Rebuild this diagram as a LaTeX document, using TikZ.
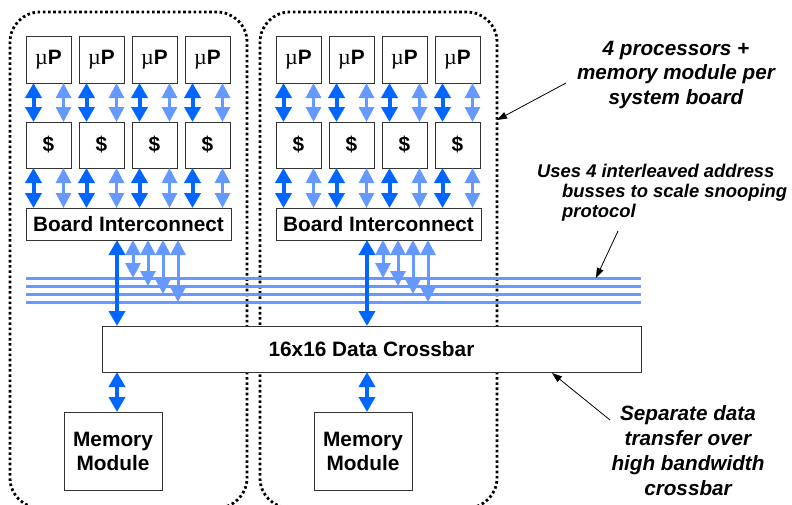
\documentclass[tikz,border=0pt]{standalone}
\usepackage{fontspec}
\setmainfont{Liberation Sans}
\newfontfamily\mufont{Liberation Serif}
\usetikzlibrary{arrows.meta}
\definecolor{busdark}{HTML}{0066FF}
\definecolor{buslight}{HTML}{6699FF}

\begin{document}
\begin{tikzpicture}[x=1pt,y=-1pt,
  unit/.style={draw=black!80, line width=0.9pt, fill=white, inner sep=0pt, outer sep=0pt,
    font=\fontsize{20.8}{24}\selectfont\bfseries, align=center, anchor=north west},
  boardbox/.style={draw=black, line width=2.8pt, dash pattern=on 2.6pt off 2.6pt,
    rounded corners=30pt, inner sep=0pt, outer sep=0pt, anchor=north west},
  darklink/.style={draw=busdark, line width=4pt,
    {Triangle[width=16pt,length=15pt]}-{Triangle[width=16pt,length=15pt]}},
  lightlink/.style={draw=buslight, line width=3pt,
    {Triangle[width=15pt,length=15pt]}-{Triangle[width=15pt,length=15pt]}},
  busline/.style={draw=buslight, line width=3pt},
  note/.style={font=\fontsize{20.7}{24.5}\selectfont\bfseries\itshape, align=center, inner sep=0pt},
  smallnote/.style={font=\fontsize{18.4}{20}\selectfont\bfseries\itshape, align=left, inner sep=0pt},
  pointer/.style={draw=black, line width=0.8pt, -{Triangle[width=7pt,length=10pt]}}
]
\useasboundingbox (0,0) rectangle (792,504);

% system boards (dotted outlines)
\node[boardbox, minimum width=237pt, minimum height=496pt] (board1) at (10,12) {};
\node[boardbox, minimum width=237pt, minimum height=496pt] (board2) at (260,12) {};

% four address busses
\foreach \k/\y in {1/278, 2/286, 3/294, 4/302} {
  \coordinate (bus\k) at (26,\y);
  \coordinate (busend\k) at (641,\y);
  \draw[busline] (bus\k) -- (busend\k);
}

% data crossbar
\node[unit, minimum width=539pt, minimum height=46pt] (xbar) at (102,326) {16x16 Data Crossbar};

\foreach \b/\ox in {1/0, 2/250} {
  % processors and caches
  \foreach \i in {0,...,3} {
    \pgfmathsetmacro{\bx}{26+\ox+53*\i}
    \node[unit, minimum width=45pt, minimum height=47pt] (p\b\i) at (\bx,36)
      {{\mufont\mdseries\fontsize{22}{24}\selectfont\char"00B5}P};
    \node[unit, minimum width=45pt, minimum height=46pt] (c\b\i) at (\bx,122) {\$};
  }
  % board interconnect and memory
  \node[unit, minimum width=205pt, minimum height=32pt] (bi\b) at (26+\ox,208) {Board Interconnect};
  \node[unit, minimum width=98pt, minimum height=78pt] (mem\b) at (64+\ox,412) {Memory\\Module};

  \foreach \i in {0,...,3} {
    \draw[darklink] ([xshift=7.5pt]p\b\i.south west) -- ([xshift=7.5pt]c\b\i.north west);
    \draw[lightlink] ([xshift=37.5pt]p\b\i.south west) -- ([xshift=37.5pt]c\b\i.north west);
    \draw[darklink] ([xshift=7.5pt]c\b\i.south west) -- ([xshift=7.5pt]c\b\i.south west |- bi\b.north);
    \draw[lightlink] ([xshift=37.5pt]c\b\i.south west) -- ([xshift=37.5pt]c\b\i.south west |- bi\b.north);
  }

  % data path to the crossbar and memory
  \coordinate (spine\b) at ([xshift=-11.5pt]bi\b.south);
  \draw[darklink] (spine\b) -- (spine\b |- xbar.north);
  \draw[darklink] (spine\b |- xbar.south) -- (spine\b |- mem\b.north);

  % taps onto the address busses
  \foreach \k/\dx in {1/4.5, 2/19.5, 3/34.5, 4/49.5} {
    \draw[lightlink] ([xshift=\dx pt]bi\b.south) -- ([xshift=\dx pt]bi\b.south |- bus\k);
  }
}

% annotations
\node[note] (note1) at (676,75) {4 processors +\\memory module per\\system board};
\node[smallnote, anchor=north west] (note2) at (537,164)
  {Uses 4 interleaved address\\\hspace*{25pt}busses to scale snooping\\\hspace*{25pt}protocol};
\node[note, font=\fontsize{20.7}{25}\selectfont\bfseries\itshape] (note3) at (688,451)
  {Separate data\\transfer over\\high bandwidth\\crossbar};

\coordinate (tail1) at (566,83);
\coordinate (head1) at (497,120);
\coordinate (tail2) at (618,231);
\coordinate (head2) at (596,278);
\coordinate (tail3) at (610,420);
\coordinate (head3) at (552,373);
\draw[pointer] (tail1) -- (head1);
\draw[pointer] (tail2) -- (head2);
\draw[pointer] (tail3) -- (head3);
\end{tikzpicture}
\end{document}
